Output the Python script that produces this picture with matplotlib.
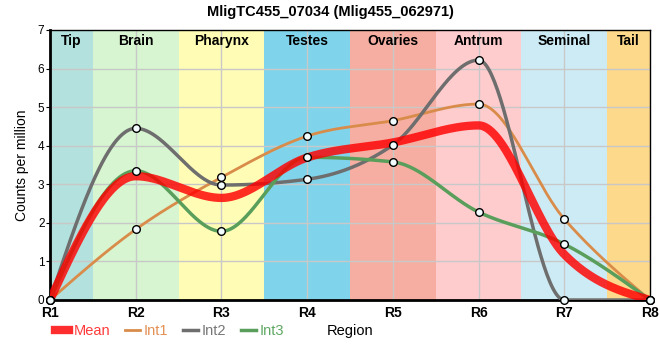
import numpy as np
import matplotlib.pyplot as plt
from matplotlib.lines import Line2D

plt.rcParams['font.family'] = ['Liberation Sans', 'DejaVu Sans']

# data
regions = ["R1", "R2", "R3", "R4", "R5", "R6", "R7", "R8"]
int1 = [0, 1.83, 3.18, 4.25, 4.65, 5.08, 2.10, 0]
int2 = [0, 4.45, 2.98, 3.13, 4.02, 6.22, 0.0, 0]
int3 = [0, 3.35, 1.78, 3.70, 3.58, 2.28, 1.45, 0]
mean = list(np.mean([int1, int2, int3], axis=0))

band_names = ["Tip", "Brain", "Pharynx", "Testes", "Ovaries", "Antrum", "Seminal", "Tail"]
band_edges = [0, 0.5, 1.5, 2.5, 3.5, 4.5, 5.5, 6.5, 7]
band_colors = ["#b3e1dd", "#d7f5d0", "#fffdb5", "#7fd4eb", "#f5aea1",
               "#ffcccd", "#cdebf4", "#fdd98b"]


# monotone cubic like d3.curveMonotoneX
def monotone(y, n=60):
    x = np.arange(len(y), dtype=float)
    y = np.asarray(y, dtype=float)
    s = np.diff(y) / np.diff(x)
    t = np.zeros(len(y))
    for i in range(1, len(y) - 1):
        p = (s[i - 1] + s[i]) / 2
        t[i] = (np.sign(s[i - 1]) + np.sign(s[i])) * min(abs(s[i - 1]), abs(s[i]), 0.5 * abs(p))
    t[0] = (3 * s[0] - t[1]) / 2
    t[-1] = (3 * s[-1] - t[-2]) / 2
    xs, ys = [], []
    for i in range(len(y) - 1):
        u = np.linspace(0, 1, n)
        h00 = 2 * u**3 - 3 * u**2 + 1
        h10 = u**3 - 2 * u**2 + u
        h01 = -2 * u**3 + 3 * u**2
        h11 = u**3 - u**2
        xs.append(x[i] + u)
        ys.append(h00 * y[i] + h10 * t[i] + h01 * y[i + 1] + h11 * t[i + 1])
    return np.concatenate(xs), np.concatenate(ys)


fig = plt.figure(figsize=(6.6, 3.6), dpi=100)
ax = fig.add_axes([50 / 660, 60 / 360, 600 / 660, 270 / 360])

for i, name in enumerate(band_names):
    ax.axvspan(band_edges[i], band_edges[i + 1], color=band_colors[i], zorder=0, lw=0)
    ax.text((band_edges[i] + band_edges[i + 1]) / 2, 6.9, name, ha="center", va="top",
            fontsize=10, fontweight="bold", zorder=5)

for k in range(1, 7):
    ax.axhline(k, color="#c8c8c8", lw=1, zorder=1)
for k in range(1, 7):
    ax.axvline(k, color="#c8c8c8", lw=1, zorder=1)

series = [
    ("Int1", int1, "#d98c4a", 2),
    ("Int2", int2, "#6e6e6e", 2.5),
    ("Int3", int3, "#5a9e5c", 2.5),
]
for name, vals, col, lw in series:
    xs, ys = monotone(vals)
    ax.plot(xs, ys, color=col, lw=lw, zorder=3)

xs, ys = monotone(mean)
ax.plot(xs, ys, color="#ff0000", alpha=0.82, lw=6, zorder=4, solid_capstyle="butt")

for name, vals, col, lw in series:
    ax.plot(range(len(vals)), vals, ls="none", marker="o", ms=5.5, mfc="#f2fbfd",
            mec="black", mew=1, zorder=6, clip_on=False)

ax.set_xlim(0, 7)
ax.set_ylim(0, 7)
ax.set_xticks(range(8))
ax.set_xticklabels(regions, fontweight="bold", fontsize=10)
ax.set_yticks(range(8))
ax.tick_params(axis="y", labelsize=8.5, length=3, pad=1)
ax.tick_params(axis="x", length=0, pad=4)
ax.set_ylabel("Counts per million", fontsize=10, labelpad=6)
for sp in ["left", "bottom"]:
    ax.spines[sp].set_linewidth(2)
for sp in ["top", "right"]:
    ax.spines[sp].set_linewidth(1)

fig.suptitle("MligTC455_07034 (Mlig455_062971)", fontsize=10.5, fontweight="bold", y=0.985)

handles = [
    Line2D([], [], color="#ff0000", alpha=0.82, lw=6),
    Line2D([], [], color="#d98c4a", lw=2),
    Line2D([], [], color="#6e6e6e", lw=2.5),
    Line2D([], [], color="#5a9e5c", lw=2.5),
]
leg = fig.legend(handles, ["Mean", "Int1", "Int2", "Int3"], ncol=4, frameon=False,
                 loc="center left", bbox_to_anchor=(0.083, 0.08), fontsize=10.5,
                 handlelength=1.0, handletextpad=0.3, columnspacing=1.0,
                 borderaxespad=0, borderpad=0)
for txt, col in zip(leg.get_texts(), ["#ff3b3b", "#e39055", "#777777", "#5fa863"]):
    txt.set_color(col)
fig.text(0.53, 0.08, "Region", ha="center", va="center", fontsize=10.5)

fig.savefig("out.png", dpi=100)
